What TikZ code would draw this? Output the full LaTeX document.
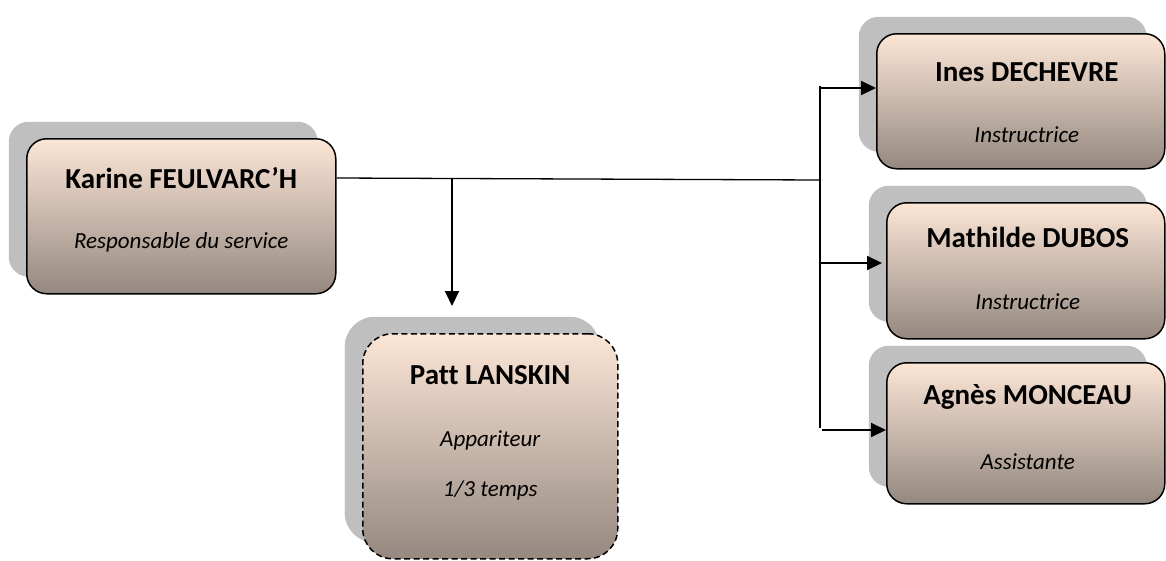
\documentclass[tikz,border=0pt]{standalone}
\usepackage{fontspec}
\setmainfont{Carlito}[Ligatures=NoCommon]
\usetikzlibrary{shadows,arrows.meta}
\definecolor{peach}{HTML}{FCE6D6}
\definecolor{midtan}{HTML}{DBC5B6}
\definecolor{darktan}{HTML}{948880}
\definecolor{shadowgray}{HTML}{BFBFBF}
\tikzset{
  card/.style={draw=black, line width=1.5pt, rounded corners=20pt,
    top color=peach, middle color=midtan, bottom color=darktan,
    drop shadow={shadow xshift=-18pt, shadow yshift=17pt, fill=shadowgray, opacity=1},
    anchor=north west, inner sep=0pt},
  nametext/.style={font=\fontsize{29}{34}\selectfont\bfseries, inner sep=0pt},
  roletext/.style={font=\fontsize{23}{27}\selectfont\itshape, inner sep=0pt},
  link/.style={draw=black, line width=1.3pt},
  arr/.style={draw=black, line width=2pt, -{Triangle[length=15pt,width=14pt]}},
}
\begin{document}
\begin{tikzpicture}[x=1pt,y=-1pt]
\useasboundingbox (0,0) rectangle (1166,560);
% boxes
\node[card, minimum width=309pt, minimum height=155pt] (karine) at (26,138) {};
\node[card, dash pattern=on 6pt off 3.5pt, rounded corners=30pt, minimum width=255pt, minimum height=225pt,
  drop shadow={shadow xshift=-18pt, shadow yshift=16pt, fill=shadowgray, opacity=1}] (patt) at (362,333) {};
\node[card, minimum width=288pt, minimum height=135pt] (ines) at (876,33) {};
\node[card, minimum width=278pt, minimum height=136pt] (mathilde) at (886,202) {};
\node[card, minimum width=278pt, minimum height=141pt] (agnes) at (886,362) {};
% texts
\node[nametext] (karineN) at ([yshift=-40pt]karine.north) {Karine FEULVARC’H};
\node[roletext] (karineR) at ([yshift=-104pt]karine.north) {Responsable du service};
\node[nametext] (pattN) at ([yshift=-42pt]patt.north) {Patt LANSKIN};
\node[roletext] (pattR) at ([yshift=-107pt]patt.north) {Appariteur};
\node[roletext] (pattT) at ([yshift=-157pt]patt.north) {1/3 temps};
\node[nametext] (inesN) at ([yshift=-39pt,xshift=6pt]ines.north) {Ines DECHEVRE};
\node[roletext] (inesR) at ([yshift=-102pt,xshift=6pt]ines.north) {Instructrice};
\node[nametext] (mathN) at ([yshift=-35pt,xshift=2pt]mathilde.north) {Mathilde DUBOS};
\node[roletext] (mathR) at ([yshift=-100pt,xshift=2pt]mathilde.north) {Instructrice};
\node[nametext] (agnesN) at ([yshift=-35pt,xshift=2pt]agnes.north) {Agnès MONCEAU};
\node[roletext] (agnesR) at ([yshift=-100pt,xshift=2pt]agnes.north) {Assistante};
% connector coordinates
\coordinate (kout) at (karine.east |- 0,178);
\coordinate (junc) at (820,180);
\coordinate (sptop) at (820,86);
\coordinate (spbot) at (820,428);
\coordinate (drop) at (452,178.5);
\coordinate (a1) at (820,88);
\coordinate (a2) at (820,263);
\coordinate (a3) at (822,430);
% connectors
\draw[link] (kout) -- (junc);
\draw[link] (sptop) -- (spbot);
\draw[arr] (drop) -- ([yshift=27pt]patt.north -| drop);
\draw[arr] (a1) -- (ines.west |- a1);
\draw[arr] (a2) -- ([xshift=-4pt]mathilde.west |- a2);
\draw[arr] (a3) -- (agnes.west |- a3);
\end{tikzpicture}
\end{document}
